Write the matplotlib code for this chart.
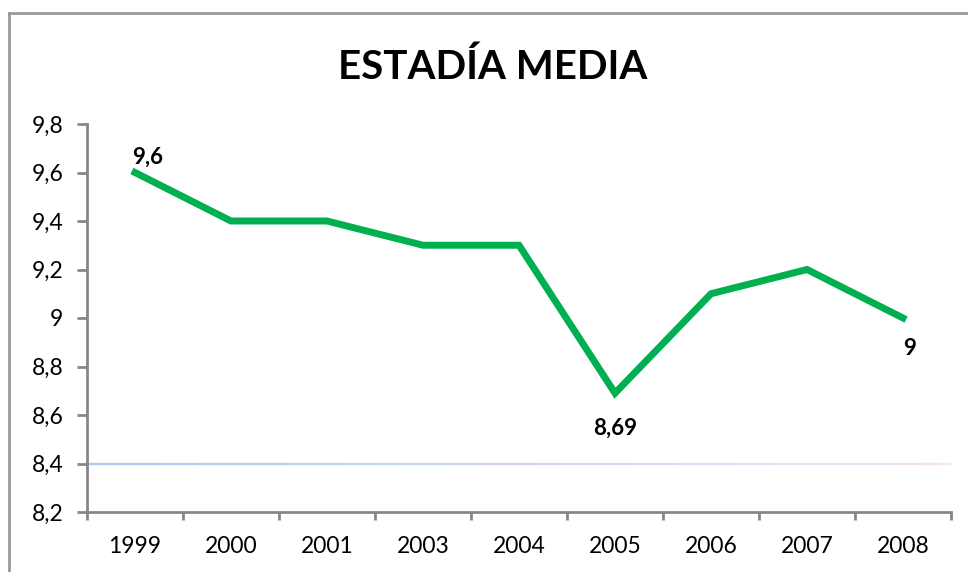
#!/usr/bin/env python3
import numpy as np
import matplotlib
matplotlib.use("Agg")
import matplotlib.pyplot as plt
from matplotlib.collections import LineCollection
from matplotlib.lines import Line2D
from matplotlib.colors import to_rgb

# data
years = ["1999", "2000", "2001", "2003", "2004", "2005", "2006", "2007", "2008"]
estadia = [9.6, 9.4, 9.4, 9.3, 9.3, 8.69, 9.1, 9.2, 9.0]
y_ticks = [8.2, 8.4, 8.6, 8.8, 9.0, 9.2, 9.4, 9.6, 9.8]
# which points get a label, and the text shown
labels = {0: "9,6", 5: "8,69", 8: "9"}
ref_level = 8.4

plt.rcParams['font.family'] = ['Lato', 'DejaVu Sans']
grey = "#878787"

fig = plt.figure(figsize=(9.68, 5.72), dpi=100)
ax = fig.add_axes([87/968, 60/572, 864/968, 388/572])

x = np.arange(len(years))
ax.plot(x, estadia, color="#00B050", lw=5, solid_joinstyle="miter", zorder=3)

# reference line with light blue -> pink gradient
n = 60
xs = np.linspace(-0.5, len(years) - 0.5, n + 1)
segs = [[(xs[i], ref_level), (xs[i+1], ref_level)] for i in range(n)]
c0, c1 = np.array(to_rgb("#A9CBEE")), np.array(to_rgb("#F6E3F4"))
cols = [c0 + (c1 - c0) * t for t in np.linspace(0, 1, n)]
ax.add_collection(LineCollection(segs, colors=cols, linewidths=1.6, zorder=2))

# data labels (offsets in points)
offsets = {0: (9, 11), 5: (0, -25), 8: (5, -22)}
for i, txt in labels.items():
    ax.annotate(txt, (x[i], estadia[i]), xytext=offsets[i], textcoords="offset points",
                ha="center", va="center", fontsize=16, fontweight="bold")

ax.set_xlim(-0.5, len(years) - 0.5)
ax.set_ylim(8.2, 9.8)
ax.set_yticks(y_ticks)
ax.set_yticklabels([("%g" % v).replace(".", ",") for v in y_ticks], fontsize=16.5)
ax.set_xticks(x)
ax.set_xticklabels(years, fontsize=16.5)
ax.set_xticks(np.arange(-0.5, len(years)), minor=True)
ax.tick_params(axis="x", which="major", length=0, pad=17)
ax.tick_params(axis="x", which="minor", length=6, width=2, color=grey, direction="out")
ax.tick_params(axis="y", length=7, width=2, color=grey, pad=10)

for s in ["top", "right"]:
    ax.spines[s].set_visible(False)
for s in ["left", "bottom"]:
    ax.spines[s].set_color(grey)
    ax.spines[s].set_linewidth(2)

fig.text(493/968, 1 - 67/572, "ESTADÍA MEDIA", ha="center", va="center",
         fontsize=29, fontweight="bold")

# chart-area border (only top and left visible in the crop)
fig.add_artist(Line2D([9/968, 9/968], [0, 1 - 13/572], color="#999999", lw=2, transform=fig.transFigure))
fig.add_artist(Line2D([9/968, 1], [1 - 13/572, 1 - 13/572], color="#999999", lw=2, transform=fig.transFigure))

fig.savefig("out.png", dpi=100)
